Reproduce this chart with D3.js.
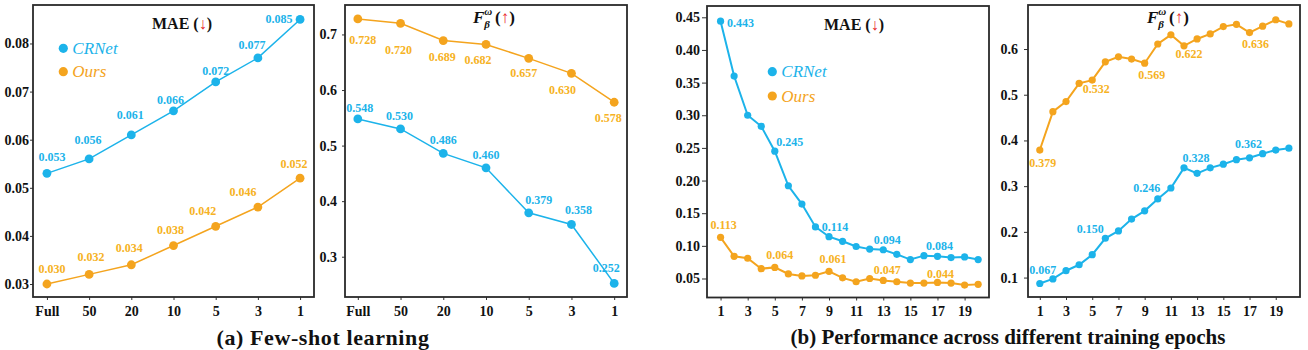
<!DOCTYPE html>
<html>
<head>
<meta charset="utf-8">
<script src="https://cdn.jsdelivr.net/npm/d3@7"></script>
<style>
  body { margin: 0; background: #fff; }
  svg { display: block; font-family: "Liberation Serif", "Times New Roman", serif; }
</style>
</head>
<body>
<div id="chart"></div>
<script>
// ---- data ----
var shots = ['Full', '50', '20', '10', '5', '3', '1'];
var shotMaeCRNet = [0.053, 0.056, 0.061, 0.066, 0.072, 0.077, 0.085];
var shotMaeOurs = [0.030, 0.032, 0.034, 0.038, 0.042, 0.046, 0.052];
var shotFCRNet = [0.548, 0.530, 0.486, 0.460, 0.379, 0.358, 0.252];
var shotFOurs = [0.728, 0.720, 0.689, 0.682, 0.657, 0.630, 0.578];

var epochs = d3.range(1, 21);
var epochTicks = [1, 3, 5, 7, 9, 11, 13, 15, 17, 19];
var epochMaeCRNet = [0.444, 0.360, 0.300, 0.283, 0.245, 0.192, 0.164, 0.129, 0.114, 0.107,
  0.099, 0.095, 0.094, 0.087, 0.079, 0.085, 0.084, 0.082, 0.083, 0.079];
var epochMaeOurs = [0.113, 0.084, 0.081, 0.065, 0.067, 0.057, 0.054, 0.055, 0.061, 0.051,
  0.045, 0.050, 0.047, 0.045, 0.043, 0.043, 0.044, 0.043, 0.040, 0.041];
var epochFCRNet = [0.087, 0.097, 0.115, 0.128, 0.150, 0.186, 0.202, 0.228, 0.246, 0.272,
  0.296, 0.340, 0.328, 0.340, 0.348, 0.358, 0.362, 0.371, 0.379, 0.383];
var epochFOurs = [0.379, 0.463, 0.485, 0.525, 0.532, 0.572, 0.583, 0.578, 0.569, 0.611,
  0.631, 0.607, 0.622, 0.633, 0.649, 0.654, 0.636, 0.650, 0.664, 0.655];
// annotated points (index) and their printed text
var epochLabelIdx = [0, 4, 8, 12, 16];
var epochMaeCRNetText = ['0.443', '0.245', '0.114', '0.094', '0.084'];
var epochMaeOursText = ['0.113', '0.064', '0.061', '0.047', '0.044'];
var epochFCRNetText = ['0.067', '0.150', '0.246', '0.328', '0.362'];
var epochFOursText = ['0.379', '0.532', '0.569', '0.622', '0.636'];

var blue = '#1cb3ea';
var orange = '#f4a41e';
var orangeText = '#f6b224';

var width = 1308, height = 350;

var svg = d3.select('#chart')
  .append('svg')
  .attr('width', width)
  .attr('height', height);

// label offsets (dx, dy) relative to each labelled point
var off = {
  p1b: [[5, -16], [-1, -19], [-1, -20], [-3, -11], [0, -11], [-6, -13], [-21, 0]],
  p1o: [[5, -15], [2, -17], [-2, -17], [-3, -16], [-13, -15], [-15, -15], [-6, -14]],
  p2b: [[2, -11], [-1, -13], [0, -13], [0, -13], [10, -13], [7, -14], [-8, -15]],
  p2o: [[5, 21], [-2, 27], [-1, 16], [-8, 16], [-5, 15], [-9, 17], [-6, 16]],
  p3b: [[20, 2], [15, -9], [6, -10], [4, -10], [2, -10]],
  p3o: [[3, -12], [5, -12], [4, -12], [4, -10], [3, -8]],
  p4b: [[3, -14], [-2, -26], [2, -23], [-1, -15], [-1, -14]],
  p4o: [[3, 13], [4, 9], [7, 12], [-8, 15], [6, 11]]
};

function drawPanel(p) {
  var g = svg.append('g');

  var x;
  if (p.cats) {
    x = d3.scalePoint().domain(p.cats).range([p.x0, p.x1]).padding(p.pad);
  } else {
    x = d3.scaleLinear().domain(p.xdom).range([p.x0, p.x1]);
  }
  var y = d3.scaleLinear().domain(p.ydom).range([p.y1, p.y0]);

  // axes
  var xAxis = d3.axisBottom(x).tickSize(3).tickPadding(6);
  if (!p.cats) xAxis.tickValues(epochTicks).tickFormat(d3.format('d'));
  g.append('g')
    .attr('class', 'axis')
    .attr('transform', 'translate(0,' + p.y1 + ')')
    .call(xAxis);

  g.append('g')
    .attr('class', 'axis')
    .attr('transform', 'translate(' + p.x0 + ',0)')
    .call(d3.axisLeft(y).tickValues(p.yticks).tickFormat(d3.format(p.yfmt))
      .tickSize(p.ytick).tickPadding(p.ypad));

  g.selectAll('.axis').attr('font-family', null).attr('font-size', null);
  g.selectAll('.axis .domain').remove();
  g.selectAll('.axis line').attr('stroke', '#333').attr('stroke-width', 1);
  g.selectAll('.axis text')
    .attr('fill', '#111')
    .style('font-size', '14px')
    .style('font-weight', 'bold');

  // frame
  g.append('rect')
    .attr('x', p.x0).attr('y', p.y0)
    .attr('width', p.x1 - p.x0).attr('height', p.y1 - p.y0)
    .attr('fill', 'none')
    .attr('stroke', '#2a2a2a')
    .attr('stroke-width', 1.8);

  var xs = p.cats || epochs;

  p.series.forEach(function(s) {
    var pts = s.values.map(function(v, i) { return [xs[i], v]; });
    var line = d3.line()
      .x(function(d) { return x(d[0]); })
      .y(function(d) { return y(d[1]); });

    g.append('path')
      .datum(pts)
      .attr('d', line)
      .attr('fill', 'none')
      .attr('stroke', s.color)
      .attr('stroke-width', p.lw);

    g.selectAll(null)
      .data(pts)
      .enter()
      .append('circle')
      .attr('cx', function(d) { return x(d[0]); })
      .attr('cy', function(d) { return y(d[1]); })
      .attr('r', p.r)
      .attr('fill', s.color);

    var idx = s.labelIdx || d3.range(s.values.length);
    g.selectAll(null)
      .data(idx)
      .enter()
      .append('text')
      .attr('x', function(d, k) { return x(xs[d]) + s.off[k][0]; })
      .attr('y', function(d, k) { return y(s.values[d]) + s.off[k][1]; })
      .attr('text-anchor', 'middle')
      .attr('dominant-baseline', 'central')
      .attr('fill', s.textColor)
      .style('font-size', '12px')
      .style('font-weight', 'bold')
      .text(function(d, k) { return s.texts ? s.texts[k] : d3.format('.3f')(s.values[d]); });
  });

  // title
  if (p.title === 'MAE') {
    var t = g.append('text')
      .attr('x', p.tx).attr('y', p.ty)
      .attr('text-anchor', 'middle')
      .attr('dominant-baseline', 'central')
      .style('font-size', '16px')
      .style('font-weight', 'bold')
      .attr('fill', '#111');
    t.append('tspan').text('MAE (');
    t.append('tspan').attr('fill', '#e8222a').style('font-weight', 'normal').text('\u2193');
    t.append('tspan').text(')');
  } else {
    var t2 = g.append('text')
      .attr('x', p.tx).attr('y', p.ty + 5)
      .style('font-size', '17px')
      .style('font-weight', 'bold')
      .attr('fill', '#111');
    t2.append('tspan').style('font-style', 'italic').text('F');
    t2.append('tspan').style('font-style', 'italic').style('font-size', '11px')
      .attr('dy', -8).text('\u03c9');
    t2.append('tspan').style('font-style', 'italic').style('font-size', '11px')
      .attr('dx', -8).attr('dy', 13).text('\u03b2');
    t2.append('tspan').attr('dx', 5).attr('dy', -5).text('(');
    t2.append('tspan').attr('fill', '#e8222a').style('font-weight', 'normal').text('\u2191');
    t2.append('tspan').text(')');
  }

  // legend
  if (p.legend) {
    p.series.forEach(function(s, i) {
      var ly = p.legend[1] + i * p.legend[2];
      g.append('circle')
        .attr('cx', p.legend[0]).attr('cy', ly)
        .attr('r', 4.6).attr('fill', s.color);
      g.append('text')
        .attr('x', p.legend[0] + 9).attr('y', ly)
        .attr('dominant-baseline', 'central')
        .attr('fill', s.color)
        .style('font-size', '17px')
        .style('font-style', 'italic')
        .text(s.name);
    });
  }
}

drawPanel({
  x0: 33, x1: 314, y0: 5, y1: 297, cats: shots, pad: 0.33,
  ydom: [0.0273, 0.0880], yticks: [0.03, 0.04, 0.05, 0.06, 0.07, 0.08], yfmt: '.2f',
  ytick: 3, ypad: 1,
  lw: 1.5, r: 4.4, title: 'MAE', tx: 182, ty: 23, legend: [63.3, 48.3, 23.4],
  series: [
    { name: 'CRNet', values: shotMaeCRNet, color: blue, textColor: blue, off: off.p1b },
    { name: 'Ours', values: shotMaeOurs, color: orange, textColor: orangeText, off: off.p1o }
  ]
});

drawPanel({
  x0: 345, x1: 627, y0: 5, y1: 297, cats: shots, pad: 0.3,
  ydom: [0.2275, 0.753], yticks: [0.3, 0.4, 0.5, 0.6, 0.7], yfmt: '.1f',
  ytick: 3, ypad: 5,
  lw: 1.5, r: 4.4, title: 'F', tx: 473, ty: 18,
  series: [
    { name: 'CRNet', values: shotFCRNet, color: blue, textColor: blue, off: off.p2b },
    { name: 'Ours', values: shotFOurs, color: orange, textColor: orangeText, off: off.p2o }
  ]
});

drawPanel({
  x0: 707, x1: 989, y0: 6, y1: 297.5, xdom: [0, 20.8],
  ydom: [0.0209, 0.4673], yticks: [0.05, 0.10, 0.15, 0.20, 0.25, 0.30, 0.35, 0.40, 0.45], yfmt: '.2f',
  ytick: 5, ypad: 2,
  lw: 2, r: 3.6, title: 'MAE', tx: 854, ty: 24, legend: [772.3, 71.7, 24.3],
  series: [
    { name: 'CRNet', values: epochMaeCRNet, color: blue, textColor: blue,
      labelIdx: epochLabelIdx, texts: epochMaeCRNetText, off: off.p3b },
    { name: 'Ours', values: epochMaeOurs, color: orange, textColor: orangeText,
      labelIdx: epochLabelIdx, texts: epochMaeOursText, off: off.p3o }
  ]
});

drawPanel({
  x0: 1028, x1: 1300, y0: 5, y1: 297, xdom: [0.1, 20.85],
  ydom: [0.0575, 0.6963], yticks: [0.1, 0.2, 0.3, 0.4, 0.5, 0.6], yfmt: '.1f',
  ytick: 4, ypad: 6,
  lw: 2, r: 3.6, title: 'F', tx: 1147, ty: 18,
  series: [
    { name: 'CRNet', values: epochFCRNet, color: blue, textColor: blue,
      labelIdx: epochLabelIdx, texts: epochFCRNetText, off: off.p4b },
    { name: 'Ours', values: epochFOurs, color: orange, textColor: orangeText,
      labelIdx: epochLabelIdx, texts: epochFOursText, off: off.p4o }
  ]
});

// captions
svg.append('text')
  .attr('x', 323).attr('y', 337)
  .attr('text-anchor', 'middle')
  .attr('dominant-baseline', 'central')
  .style('font-size', '22px')
  .style('letter-spacing', '0.6px')
  .style('font-weight', 'bold')
  .attr('fill', '#111')
  .text('(a) Few-shot learning');

svg.append('text')
  .attr('x', 1008).attr('y', 337)
  .attr('text-anchor', 'middle')
  .attr('dominant-baseline', 'central')
  .style('font-size', '21px')
  .style('font-weight', 'bold')
  .attr('fill', '#111')
  .text('(b) Performance across different training epochs');
</script>
</body>
</html>
